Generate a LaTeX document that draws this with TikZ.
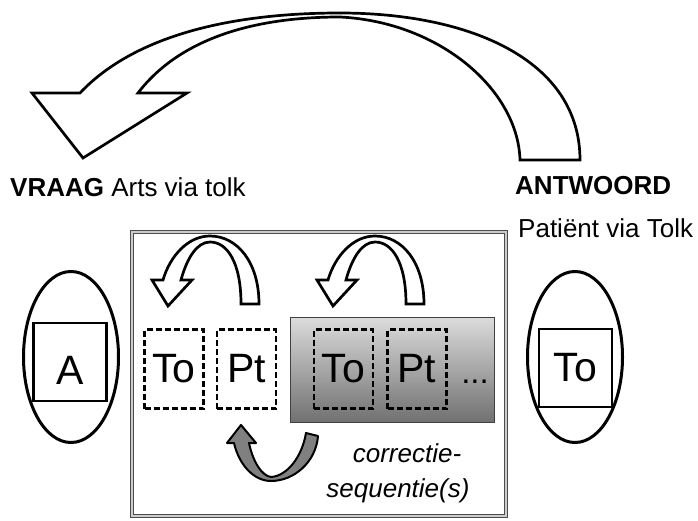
\documentclass[tikz,border=0pt]{standalone}
\usepackage{fontspec}
\setmainfont{Liberation Sans}
\usetikzlibrary{shapes.geometric}

\begin{document}
\begin{tikzpicture}[x=1pt, y=-1pt,
    every node/.style={font=\fontsize{26}{30}\selectfont, inner sep=0pt},
    party/.style={draw, ellipse, line width=3pt, minimum width=95pt, minimum height=171pt},
    speaker/.style={draw, rectangle, line width=2.6pt, minimum width=73pt, minimum height=78pt,
                    font=\fontsize{41}{46}\selectfont},
    turn/.style={draw, rectangle, dash pattern=on 6pt off 3pt, line width=2.8pt,
                 minimum width=59pt, minimum height=79pt, font=\fontsize{41}{46}\selectfont},
    seq/.style={draw=black!75, line width=1.8pt, top color=black!14, bottom color=black!56,
                minimum width=204pt, minimum height=105pt},
    frame/.style={draw=black!70, double=black!20, double distance=1.6pt, line width=1.3pt,
                  minimum width=374pt, minimum height=284pt},
    blockarrow/.style={draw, line width=2.7pt, fill=white, line join=miter},
    grayarrow/.style={draw, line width=2pt, fill=black!50, line join=round},
    corr/.style={font=\itshape\fontsize{26}{30}\selectfont, anchor=base}
]
\useasboundingbox (0,0) rectangle (698,521);

\node[frame] (kader) at (319,374) {};
\node[seq] (seqbox) at (392.5,370) {};

\node[party] (arts) at (71,357) {};
\node[party] (pati) at (575,357) {};
\node[speaker, text height=44pt] (a) at (70,362) {A};
\node[speaker] (tolk) at (575.5,368) {To};

\node[turn] (to1) at (174,369)   {To};
\node[turn] (pt1) at (246.5,369) {Pt};
\node[turn] (to2) at (343.5,369) {To};
\node[turn] (pt2) at (417,369)   {Pt};
\node[anchor=base, font=\fontsize{33}{36}\selectfont] (dots) at (475,383) {...};

\node[anchor=base west] (vraag) at (10,197)  {\textbf{VRAAG} Arts via tolk};
\node[anchor=base west] (antw)  at (515,195) {\textbf{ANTWOORD}};
\node[anchor=base west] (pat)   at (518,238) {Patiënt via Tolk};
\node[corr] (corr1) at (407,462) {correctie-};
\node[corr] (corr2) at (398,497) {sequentie(s)};

\draw[blockarrow] (580,160) .. controls (580,60) and (470,13) .. (340,13)
    .. controls (220,13) and (130,40) .. (80,93) -- (32,93) -- (83,158) -- (187,93) -- (138,93)
    .. controls (177,42) and (247,17) .. (340,17) .. controls (440,22) and (518,90) .. (520,160) -- cycle;

\foreach \dx in {0,165}
  \draw[blockarrow, shift={(\dx,0)}] (259,304) .. controls (259,262) and (237,236) .. (210,236)
      .. controls (188,236) and (170,256) .. (163,280) -- (152,280) -- (168,306) -- (192,280) -- (181,280)
      .. controls (187,258) and (197,242) .. (210,242) .. controls (227,242) and (241,262) .. (241,304) -- cycle;

\draw[grayarrow] (318,436) .. controls (316,462) and (294,481) .. (271,481)
    .. controls (254,481) and (239,465) .. (234,443) -- (227,443) -- (241,425) -- (256,443) -- (249,443)
    .. controls (253,462) and (262,476) .. (271,477) .. controls (287,476) and (302,457) .. (306,433) -- cycle;
\end{tikzpicture}
\end{document}
